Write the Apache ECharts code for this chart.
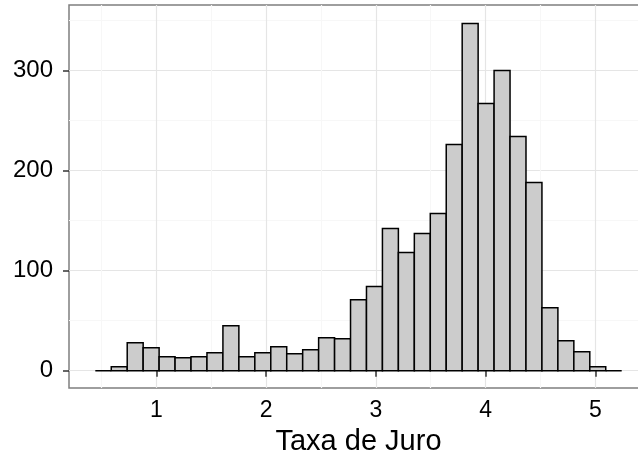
<!DOCTYPE html>
<html lang="pt">
<head>
    <meta charset="UTF-8">
    <script src="https://cdn.jsdelivr.net/npm/echarts@6/dist/echarts.min.js"></script>
    <title>Taxa de Juro</title>
</head>
<body style="margin:0;overflow:hidden">
    <!-- the panel runs past the right edge of the picture: wider chart, clipped by the wrapper -->
    <div style="width:638px;height:461px;overflow:hidden;position:relative">
        <div id="hist" style="width: 649px;height:461px;"></div>
    </div>
</body>
<script type="text/javascript">
    // histogram bins (first and last are empty, as in ggplot)
    var binStart = 0.4437;
    var binWidth = 0.14536;
    var counts = [0, 4, 28, 23, 14, 13, 14, 18, 45, 14, 18, 24, 17, 21, 33, 32, 71,
                  84, 142, 118, 137, 157, 226, 347, 267, 300, 234, 188, 63, 30, 19, 4, 0];
    var xTicks = [1, 2, 3, 4, 5];
    var xMinor = [0.5, 1.5, 2.5, 3.5, 4.5];
    var yTicks = [0, 100, 200, 300];
    var yMinor = [50, 150, 250, 350];

    var bins = counts.map(function (c, i) {
        return [binStart + i * binWidth, binStart + (i + 1) * binWidth, c];
    });

    var font = 'Liberation Sans, Arial, sans-serif';
    var chart = echarts.init(document.getElementById('hist'));

    chart.setOption({
        animation: false,
        grid: {
            left: 69, right: 1, top: 5, bottom: 68,
            show: true, borderColor: '#7f7f7f', borderWidth: 1.5, backgroundColor: '#fff'
        },
        xAxis: [{
            type: 'value', min: 0.2039, max: 5.4803,
            name: 'Taxa de Juro', nameLocation: 'middle', nameGap: 35,
            nameTextStyle: {fontSize: 29, color: '#000', fontFamily: font},
            axisLine: {show: false},
            axisTick: {customValues: xTicks, length: 6, lineStyle: {color: '#333', width: 1.5}},
            axisLabel: {customValues: xTicks, fontSize: 23, color: '#000', margin: 11, fontFamily: font},
            splitLine: {show: true, lineStyle: {color: '#e5e5e5', width: 1.2}}
        }, {
            type: 'value', min: 0.2039, max: 5.4803, position: 'bottom',
            axisLine: {show: false},
            axisTick: {show: false, customValues: xMinor},
            axisLabel: {show: false},
            splitLine: {show: true, lineStyle: {color: '#f7f7f7', width: 1.2}}
        }],
        yAxis: [{
            type: 'value', min: -17.4, max: 365.4,
            axisLine: {show: false},
            axisTick: {customValues: yTicks, length: 6, lineStyle: {color: '#333', width: 1.5}},
            axisLabel: {customValues: yTicks, fontSize: 24, color: '#000', margin: 16, fontFamily: font},
            splitLine: {show: true, lineStyle: {color: '#e5e5e5', width: 1.2}}
        }, {
            type: 'value', min: -17.4, max: 365.4, position: 'left',
            axisLine: {show: false},
            axisTick: {show: false, customValues: yMinor},
            axisLabel: {show: false},
            splitLine: {show: true, lineStyle: {color: '#f7f7f7', width: 1.2}}
        }],
        series: [{
            type: 'custom',
            xAxisIndex: 0,
            yAxisIndex: 0,
            encode: {x: [0, 1], y: 2},
            data: bins,
            renderItem: function (params, api) {
                var p0 = api.coord([api.value(0), api.value(2)]);
                var p1 = api.coord([api.value(1), 0]);
                return {
                    type: 'rect',
                    shape: {x: p0[0], y: p0[1], width: p1[0] - p0[0], height: p1[1] - p0[1]},
                    style: {fill: '#cccccc', stroke: '#000', lineWidth: 1.5}
                };
            }
        }]
    });
</script>
</html>
